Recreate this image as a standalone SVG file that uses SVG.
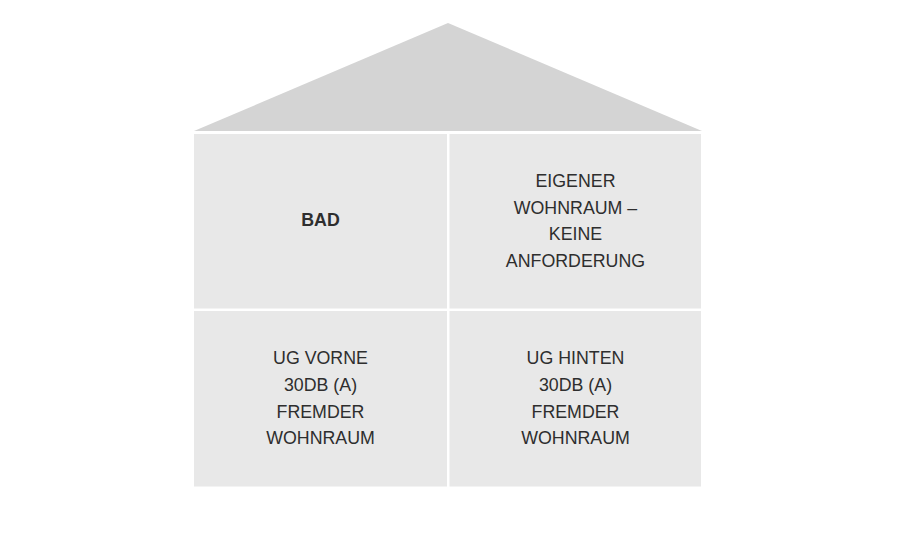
<svg xmlns="http://www.w3.org/2000/svg" width="900" height="537" viewBox="0 0 900 537">
<style>
.room{fill:#e8e8e8}
.roof{fill:#d4d4d4}
.t{font-family:"Liberation Sans",Arial,sans-serif;font-size:17.8px;fill:#2e2e2e;text-anchor:middle;letter-spacing:0px}
.b{font-weight:bold}
</style>
<rect width="900" height="537" fill="#ffffff"/>
<g id="roof"><polygon class="roof" points="448,23 194,131 702,131"/></g>
<g id="bad"><rect class="room" x="194" y="134" width="253" height="174.5"/>
<text class="t b" x="320.5" y="226">BAD</text></g>
<g id="eigener-wohnraum"><rect class="room" x="449.5" y="134" width="251.5" height="174.5"/>
<text class="t" x="575.5" y="187">EIGENER</text>
<text class="t" x="575.5" y="214">WOHNRAUM –</text>
<text class="t" x="575.5" y="240">KEINE</text>
<text class="t" x="575.5" y="267">ANFORDERUNG</text></g>
<g id="ug-vorne"><rect class="room" x="194" y="311" width="253" height="175.5"/>
<text class="t" x="320.5" y="364">UG VORNE</text>
<text class="t" x="320.5" y="391">30DB (A)</text>
<text class="t" x="320.5" y="418">FREMDER</text>
<text class="t" x="320.5" y="444">WOHNRAUM</text></g>
<g id="ug-hinten"><rect class="room" x="449.5" y="311" width="251.5" height="175.5"/>
<text class="t" x="575.5" y="364">UG HINTEN</text>
<text class="t" x="575.5" y="391">30DB (A)</text>
<text class="t" x="575.5" y="418">FREMDER</text>
<text class="t" x="575.5" y="444">WOHNRAUM</text></g>
<g id="connectors"></g>
</svg>
